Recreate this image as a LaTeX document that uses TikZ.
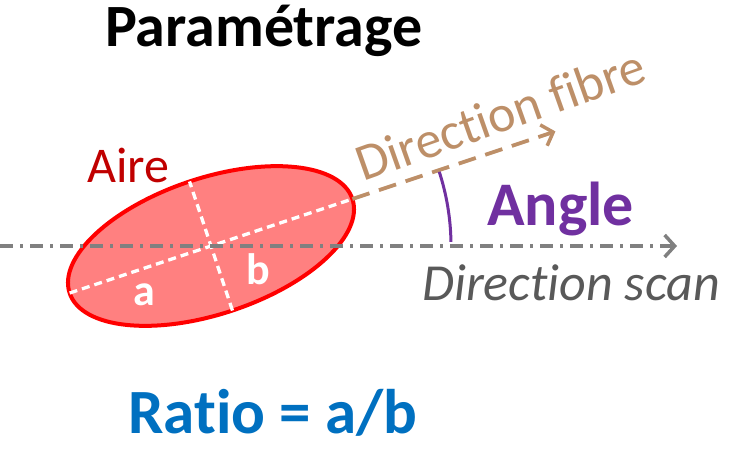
\documentclass[tikz,border=0pt]{standalone}
\usepackage{fontspec}
\setmainfont{Carlito}[Ligatures={NoCommon,NoContextual}]
\usetikzlibrary{arrows.meta,calc}
\definecolor{ellfill}{RGB}{255,128,128}
\definecolor{ellline}{RGB}{255,0,0}
\definecolor{airered}{RGB}{192,0,0}
\definecolor{fibrebrown}{RGB}{189,143,104}
\definecolor{scangray}{RGB}{128,128,128}
\definecolor{scantext}{RGB}{89,89,89}
\definecolor{anglepurple}{RGB}{112,48,160}
\definecolor{ratioblue}{RGB}{0,112,192}
\tikzset{
  txt/.style={inner sep=0pt, anchor=base west},
  tip/.style={-{Straight Barb[length=10pt,width=22pt,line width=3.5pt]}}
}
\begin{document}
\begin{tikzpicture}[x=1pt,y=1pt]
\useasboundingbox (0,0) rectangle (743,448);
% ellipse
\coordinate (c) at (211,202);
\draw[ellline, fill=ellfill, line width=4pt, rotate around={18.4:(c)}] (c) ellipse [x radius=149, y radius=68];
% axes of ellipse
\draw[white, line width=3.3pt, dash pattern=on 8pt off 5pt] ($(c)+(18.4:-149)$) coordinate (a1) -- ($(c)+(18.4:149)$) coordinate (a2);
\draw[white, line width=3.3pt, dash pattern=on 8pt off 5pt] ($(c)+(108.4:-68)$) coordinate (b1) -- ($(c)+(108.4:68)$) coordinate (b2);
% scan line
\coordinate (s0) at (0,202);
\coordinate (s1) at (677,202);
\draw[scangray, line width=4pt, dash pattern=on 13pt off 7pt on 3pt off 7pt, tip] (s0) -- (s1);
% fibre
\coordinate (f1) at ($(c)+(18.4:363)$);
\draw[fibrebrown, line width=3.8pt, dash pattern=on 18pt off 10pt, tip] (a2) -- (f1);
% angle arc
\draw[anglepurple, line width=3pt] ($(c)+(1:240)$) arc[start angle=1, end angle=18, radius=240];
% texts
\node[txt, font=\bfseries\fontsize{60}{60}\selectfont] (title) at (105,401) {Paramétrage};
\node[txt, font=\fontsize{50}{50}\selectfont, text=airered] (aire) at (87,266) {Aire};
\node[txt, font=\bfseries\fontsize{44}{44}\selectfont, text=white] (la) at (133,143) {a};
\node[txt, font=\bfseries\fontsize{44}{44}\selectfont, text=white] (lb) at (246,164) {b};
\node[txt, font=\fontsize{52}{52}\selectfont, text=fibrebrown, rotate=19.5] (fibre) at (363,266) {Direction fibre};
\node[txt, font=\bfseries\fontsize{62}{62}\selectfont, text=anglepurple] (angle) at (487,223) {Angle};
\node[txt, font=\itshape\fontsize{52}{52}\selectfont, text=scantext] (scan) at (422,148) {Direction scan};
\node[txt, font=\bfseries\fontsize{63}{63}\selectfont, text=ratioblue] (ratio) at (128,15) {Ratio = a/b};
\end{tikzpicture}
\end{document}
